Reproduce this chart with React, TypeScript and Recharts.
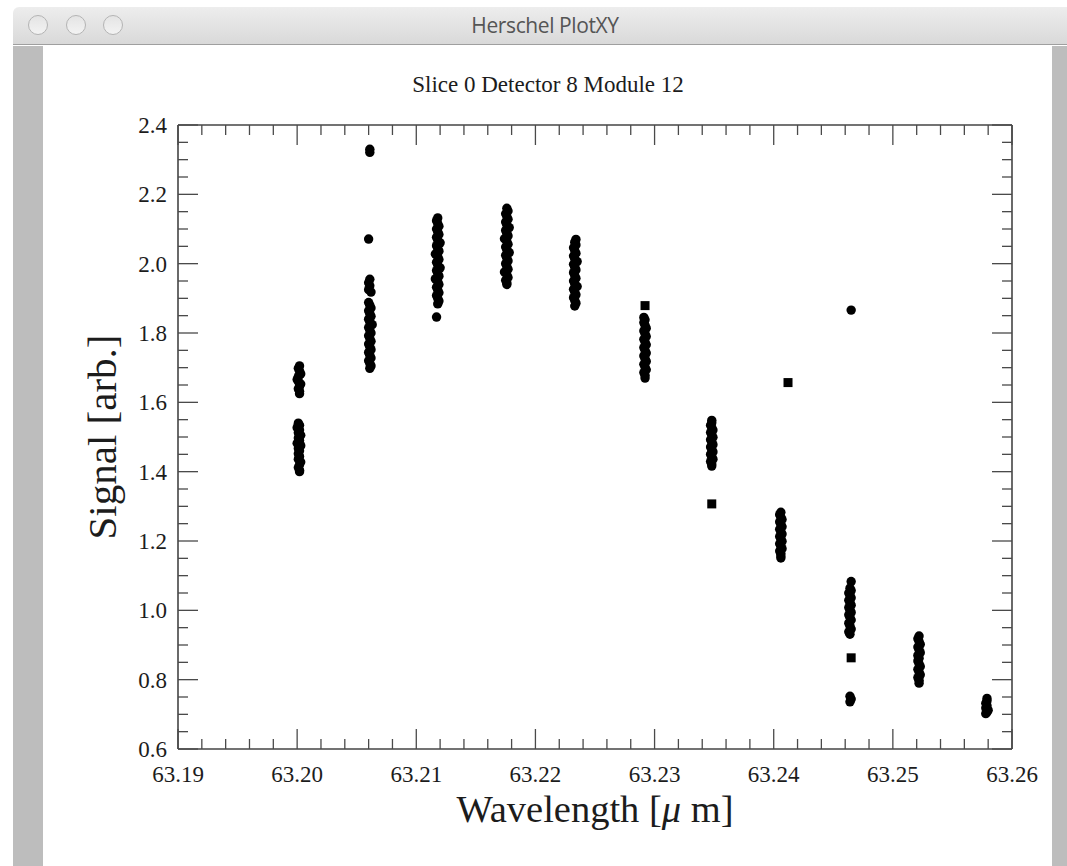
import React from "react";
import { ScatterChart, Scatter, XAxis, YAxis } from "recharts";

const X_MAJOR = [63.19, 63.2, 63.21, 63.22, 63.23, 63.24, 63.25, 63.26];
const X_LABELS = ["63.19", "63.20", "63.21", "63.22", "63.23", "63.24", "63.25", "63.26"];
const Y_MAJOR = [0.6, 0.8, 1.0, 1.2, 1.4, 1.6, 1.8, 2.0, 2.2, 2.4];
const Y_LABELS = ["0.6", "0.8", "1.0", "1.2", "1.4", "1.6", "1.8", "2.0", "2.2", "2.4"];

type Pt = [number, number];

// readings per wavelength step (circles)
const STEP_1: Pt[] = [
  [63.2002, 1.705], [63.2001, 1.698], [63.2002, 1.69], [63.2003, 1.682], [63.2001, 1.674],
  [63.2000, 1.666], [63.2001, 1.66], [63.2003, 1.653], [63.2002, 1.646], [63.2001, 1.639],
  [63.2002, 1.632], [63.2002, 1.625],
  [63.2001, 1.54], [63.2002, 1.534], [63.2000, 1.527], [63.2002, 1.52], [63.2001, 1.512],
  [63.2003, 1.505], [63.2001, 1.497], [63.2002, 1.49], [63.2000, 1.482], [63.2003, 1.475],
  [63.2001, 1.467], [63.2002, 1.46], [63.2001, 1.452], [63.2002, 1.444], [63.2001, 1.436],
  [63.2003, 1.428], [63.2002, 1.42], [63.2001, 1.412], [63.2002, 1.404], [63.2002, 1.4],
];
const STEP_2: Pt[] = [
  [63.2061, 2.33], [63.2061, 2.321], [63.2060, 2.071],
  [63.2061, 1.955], [63.2060, 1.945], [63.2061, 1.936], [63.2060, 1.925], [63.2062, 1.918],
  [63.2060, 1.888], [63.2061, 1.88], [63.2062, 1.872], [63.2060, 1.864], [63.2061, 1.856],
  [63.2062, 1.848], [63.2060, 1.84], [63.2061, 1.832], [63.2063, 1.824], [63.2060, 1.816],
  [63.2061, 1.808], [63.2062, 1.8], [63.2060, 1.792], [63.2061, 1.784], [63.2062, 1.776],
  [63.2060, 1.768], [63.2061, 1.76], [63.2062, 1.752], [63.2060, 1.744], [63.2061, 1.736],
  [63.2062, 1.728], [63.2060, 1.72], [63.2061, 1.712], [63.2062, 1.705], [63.2061, 1.698],
];
const STEP_3: Pt[] = [
  [63.2118, 2.132], [63.2117, 2.124], [63.2118, 2.116], [63.2119, 2.108], [63.2117, 2.1],
  [63.2118, 2.092], [63.2119, 2.084], [63.2117, 2.076], [63.2118, 2.068], [63.2120, 2.06],
  [63.2117, 2.052], [63.2118, 2.044], [63.2119, 2.036], [63.2116, 2.028], [63.2118, 2.02],
  [63.2119, 2.012], [63.2117, 2.004], [63.2118, 1.996], [63.2120, 1.988], [63.2117, 1.98],
  [63.2118, 1.972], [63.2119, 1.964], [63.2116, 1.956], [63.2118, 1.948], [63.2119, 1.94],
  [63.2117, 1.932], [63.2118, 1.924], [63.2119, 1.916], [63.2117, 1.908], [63.2118, 1.9],
  [63.2119, 1.892], [63.2118, 1.884], [63.2117, 1.846],
];
const STEP_4: Pt[] = [
  [63.2176, 2.16], [63.2177, 2.152], [63.2175, 2.144], [63.2176, 2.136], [63.2177, 2.128],
  [63.2175, 2.12], [63.2176, 2.112], [63.2178, 2.104], [63.2175, 2.096], [63.2176, 2.088],
  [63.2177, 2.08], [63.2174, 2.072], [63.2176, 2.064], [63.2177, 2.056], [63.2175, 2.048],
  [63.2176, 2.04], [63.2178, 2.032], [63.2175, 2.024], [63.2176, 2.016], [63.2177, 2.008],
  [63.2175, 2.0], [63.2176, 1.992], [63.2177, 1.984], [63.2174, 1.976], [63.2176, 1.968],
  [63.2177, 1.96], [63.2175, 1.952], [63.2176, 1.945], [63.2176, 1.94],
];
const STEP_5: Pt[] = [
  [63.2234, 2.07], [63.2233, 2.062], [63.2234, 2.054], [63.2232, 2.046], [63.2233, 2.038],
  [63.2234, 2.03], [63.2232, 2.022], [63.2233, 2.014], [63.2235, 2.006], [63.2232, 1.998],
  [63.2233, 1.99], [63.2234, 1.982], [63.2232, 1.974], [63.2233, 1.966], [63.2234, 1.958],
  [63.2232, 1.95], [63.2233, 1.942], [63.2235, 1.934], [63.2232, 1.926], [63.2233, 1.918],
  [63.2234, 1.91], [63.2232, 1.902], [63.2233, 1.894], [63.2234, 1.886], [63.2233, 1.878],
];
const STEP_6: Pt[] = [
  [63.2291, 1.845], [63.2292, 1.838], [63.2291, 1.83], [63.2292, 1.822], [63.2293, 1.814],
  [63.2291, 1.806], [63.2292, 1.798], [63.2293, 1.79], [63.2291, 1.782], [63.2292, 1.774],
  [63.2293, 1.766], [63.2291, 1.758], [63.2292, 1.75], [63.2293, 1.742], [63.2291, 1.734],
  [63.2292, 1.726], [63.2293, 1.718], [63.2291, 1.71], [63.2292, 1.702], [63.2293, 1.694],
  [63.2291, 1.686], [63.2292, 1.678], [63.2292, 1.67],
];
const STEP_7: Pt[] = [
  [63.2348, 1.548], [63.2348, 1.541], [63.2347, 1.534], [63.2348, 1.527], [63.2349, 1.52],
  [63.2347, 1.513], [63.2348, 1.506], [63.2349, 1.499], [63.2347, 1.492], [63.2348, 1.485],
  [63.2349, 1.478], [63.2347, 1.471], [63.2348, 1.464], [63.2349, 1.457], [63.2347, 1.45],
  [63.2348, 1.443], [63.2349, 1.436], [63.2347, 1.429], [63.2348, 1.422], [63.2348, 1.416],
];
const STEP_8: Pt[] = [
  [63.2406, 1.283], [63.2405, 1.276], [63.2406, 1.269], [63.2407, 1.262], [63.2405, 1.255],
  [63.2406, 1.248], [63.2407, 1.241], [63.2405, 1.234], [63.2406, 1.227], [63.2407, 1.22],
  [63.2405, 1.213], [63.2406, 1.206], [63.2407, 1.199], [63.2405, 1.192], [63.2406, 1.185],
  [63.2407, 1.178], [63.2405, 1.171], [63.2406, 1.164], [63.2406, 1.157], [63.2406, 1.151],
];
const STEP_9: Pt[] = [
  [63.2465, 1.866], [63.2465, 1.083],
  [63.2464, 1.064], [63.2465, 1.057], [63.2463, 1.05], [63.2464, 1.043], [63.2465, 1.036],
  [63.2463, 1.029], [63.2464, 1.022], [63.2465, 1.015], [63.2463, 1.008], [63.2464, 1.001],
  [63.2465, 0.994], [63.2463, 0.987], [63.2464, 0.98], [63.2465, 0.972], [63.2463, 0.963],
  [63.2464, 0.955], [63.2465, 0.946], [63.2463, 0.938], [63.2464, 0.931],
  [63.2464, 0.752], [63.2465, 0.744], [63.2464, 0.736],
];
const STEP_10: Pt[] = [
  [63.2522, 0.926], [63.2521, 0.918], [63.2522, 0.91], [63.2523, 0.902], [63.2521, 0.894],
  [63.2522, 0.886], [63.2523, 0.878], [63.2521, 0.87], [63.2522, 0.862], [63.2521, 0.854],
  [63.2522, 0.846], [63.2523, 0.838], [63.2521, 0.83], [63.2522, 0.822], [63.2523, 0.814],
  [63.2521, 0.806], [63.2522, 0.798], [63.2522, 0.79],
];
const STEP_11: Pt[] = [
  [63.2579, 0.746], [63.2579, 0.739], [63.2578, 0.732], [63.2579, 0.725], [63.2578, 0.718],
  [63.2580, 0.712], [63.2579, 0.706], [63.2578, 0.702],
];
// flagged readings (squares)
const FLAGGED: Pt[] = [
  [63.2292, 1.879], [63.2348, 1.307], [63.2412, 1.657], [63.2465, 0.863],
];

const STEPS = [STEP_1, STEP_2, STEP_3, STEP_4, STEP_5, STEP_6, STEP_7, STEP_8, STEP_9, STEP_10, STEP_11];

const circles = STEPS.flat().map(([x, y]) => ({ x, y }));
const squares = FLAGGED.map(([x, y]) => ({ x, y }));

function withMinors(major: number[], n: number) {
  const out: number[] = [];
  for (let i = 0; i < major.length - 1; i++) {
    const step = (major[i + 1] - major[i]) / n;
    for (let k = 0; k < n; k++) out.push(+(major[i] + k * step).toFixed(6));
  }
  out.push(major[major.length - 1]);
  return out;
}

const X_TICKS = withMinors(X_MAJOR, 5);
const Y_TICKS = withMinors(Y_MAJOR, 4);

const SERIF = "'Liberation Serif', 'Times New Roman', serif";
const INK = "#1c1c1c";
const TICK = "#4a4a4a";

const isMajor = (v: number, list: number[]) => list.some((m) => Math.abs(m - v) < 1e-7);
const labelOf = (v: number, list: number[], labels: string[]) =>
  labels[list.findIndex((m) => Math.abs(m - v) < 1e-7)];

function BottomTick(props: any) {
  const { x, y, payload } = props;
  const major = isMajor(payload.value, X_MAJOR);
  return (
    <g>
      <line x1={x} x2={x} y1={y} y2={y - (major ? 20 : 10)} stroke={TICK} strokeWidth={1.3} />
      {major && (
        <text x={x} y={y + 33} textAnchor="middle" fontFamily={SERIF} fontSize={23} fill={INK}>
          {labelOf(payload.value, X_MAJOR, X_LABELS)}
        </text>
      )}
    </g>
  );
}

function TopTick(props: any) {
  const { x, y, payload } = props;
  const major = isMajor(payload.value, X_MAJOR);
  return <line x1={x} x2={x} y1={y} y2={y + (major ? 20 : 10)} stroke={TICK} strokeWidth={1.3} />;
}

function LeftTick(props: any) {
  const { x, y, payload } = props;
  const major = isMajor(payload.value, Y_MAJOR);
  return (
    <g>
      <line x1={x} x2={x + (major ? 20 : 10)} y1={y} y2={y} stroke={TICK} strokeWidth={1.3} />
      {major && (
        <text x={x - 11} y={y + 8} textAnchor="end" fontFamily={SERIF} fontSize={23} fill={INK}>
          {labelOf(payload.value, Y_MAJOR, Y_LABELS)}
        </text>
      )}
    </g>
  );
}

function RightTick(props: any) {
  const { x, y, payload } = props;
  const major = isMajor(payload.value, Y_MAJOR);
  return <line x1={x} x2={x - (major ? 20 : 10)} y1={y} y2={y} stroke={TICK} strokeWidth={1.3} />;
}

const Dot = (p: any) => <circle cx={p.cx} cy={p.cy} r={4.7} fill="#000" />;
const Square = (p: any) => <rect x={p.cx - 4.5} y={p.cy - 4.5} width={9} height={9} fill="#000" />;
const Nothing = () => <g />;

function TitleBar() {
  return (
    <div
      style={{
        position: "absolute",
        left: 13,
        top: 7,
        width: 1054,
        height: 37,
        background: "linear-gradient(#ededed, #d9d9d9)",
        borderBottom: "1px solid #9f9f9f",
        borderTopLeftRadius: 6,
      }}
    >
      {[25, 63, 100].map((cx) => (
        <div
          key={cx}
          style={{
            position: "absolute",
            left: cx - 10,
            top: 8,
            width: 18,
            height: 18,
            borderRadius: "50%",
            border: "1.5px solid #b4b4b4",
            background: "linear-gradient(#e4e4e4, #f3f3f3)",
          }}
        />
      ))}
      <div
        style={{
          position: "absolute",
          left: 0,
          width: 1064,
          top: 4,
          textAlign: "center",
          fontFamily: "'Open Sans', 'DejaVu Sans', sans-serif",
          fontSize: 21,
          color: "#555",
          letterSpacing: -0.4,
        }}
      >
        Herschel PlotXY
      </div>
    </div>
  );
}

export default function App() {
  return (
    <div style={{ position: "absolute", left: 0, top: 0, width: 1067, height: 866, background: "#fff", overflow: "hidden" }}>
      <TitleBar />
      <div style={{ position: "absolute", left: 13, top: 46, width: 30, height: 820, background: "#bdbdbd" }} />
      <div style={{ position: "absolute", left: 1052, top: 46, width: 15, height: 820, background: "#bdbdbd" }} />

      <div style={{ position: "absolute", left: 0, top: 0 }}>
        <ScatterChart width={1067} height={866} margin={{ top: 124, right: 54, bottom: 77, left: 118 }}>
          <XAxis
            xAxisId="b"
            dataKey="x"
            type="number"
            orientation="bottom"
            domain={[63.19, 63.26]}
            ticks={X_TICKS}
            interval={0}
            height={40}
            tickSize={0}
            tickMargin={0}
            tick={<BottomTick />}
            axisLine={{ stroke: "#444", strokeWidth: 1.6 }}
            allowDataOverflow
          />
          <XAxis
            xAxisId="t"
            dataKey="x"
            type="number"
            orientation="top"
            domain={[63.19, 63.26]}
            ticks={X_TICKS}
            interval={0}
            height={1}
            tickSize={0}
            tickMargin={0}
            tick={<TopTick />}
            axisLine={{ stroke: "#444", strokeWidth: 1.6 }}
            allowDataOverflow
          />
          <YAxis
            yAxisId="l"
            dataKey="y"
            type="number"
            orientation="left"
            domain={[0.6, 2.4]}
            ticks={Y_TICKS}
            interval={0}
            width={60}
            tickSize={0}
            tickMargin={0}
            tick={<LeftTick />}
            axisLine={{ stroke: "#444", strokeWidth: 1.6 }}
            allowDataOverflow
          />
          <YAxis
            yAxisId="r"
            dataKey="y"
            type="number"
            orientation="right"
            domain={[0.6, 2.4]}
            ticks={Y_TICKS}
            interval={0}
            width={1}
            tickSize={0}
            tickMargin={0}
            tick={<RightTick />}
            axisLine={{ stroke: "#444", strokeWidth: 1.6 }}
            allowDataOverflow
          />
          <Scatter xAxisId="b" yAxisId="l" data={circles} shape={Dot} isAnimationActive={false} />
          <Scatter xAxisId="b" yAxisId="l" data={squares} shape={Square} isAnimationActive={false} />
          <Scatter xAxisId="t" yAxisId="r" data={squares} shape={Nothing} isAnimationActive={false} />
        </ScatterChart>
      </div>

      <svg width={1067} height={866} style={{ position: "absolute", left: 0, top: 0, pointerEvents: "none" }}>
        <text x={548} y={92} textAnchor="middle" fontFamily={SERIF} fontSize={23} fill={INK}>
          Slice 0 Detector 8 Module 12
        </text>
        <text
          x={0}
          y={0}
          transform="translate(116 437) rotate(-90)"
          textAnchor="middle"
          fontFamily={SERIF}
          fontSize={41}
          fill={INK}
        >
          Signal [arb.]
        </text>
        <text x={595} y={822} textAnchor="middle" fontFamily={SERIF} fontSize={38.5} fill={INK}>
          Wavelength [<tspan fontStyle="italic">μ</tspan> m]
        </text>
      </svg>
    </div>
  );
}
